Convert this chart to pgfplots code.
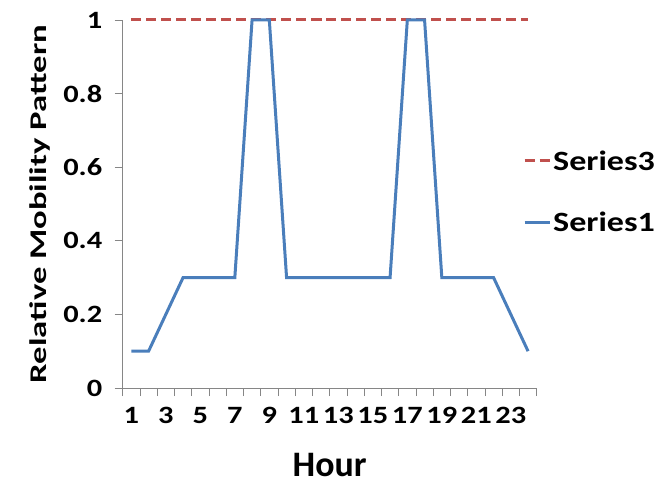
\documentclass[border=0pt]{standalone}
\usepackage{fontspec}
\setmainfont{Carlito}[FakeStretch=1.22]
\newfontfamily\hourfont{Carlito}
\newfontfamily\ylabfont{Carlito}[FakeStretch=1.45]
\usepackage{pgfplots}
\pgfplotsset{compat=1.18}
\definecolor{sone}{RGB}{74,126,187}
\definecolor{sthree}{RGB}{192,80,77}
\definecolor{axgray}{RGB}{134,134,134}
\begin{document}
\begin{tikzpicture}
\path[use as bounding box] (-122.7bp,-94bp) rectangle (541.3bp,388bp);
\begin{axis}[
    at={(0,0)}, anchor=south west,
    width=414bp, height=368bp, scale only axis,
    xmin=0.5, xmax=24.5, ymin=0, ymax=1,
    axis x line=bottom, axis y line=left,
    axis line style={-, axgray, line width=0.8bp},
    tick style={axgray, line width=0.8bp},
    tick align=outside,
    major tick length=8bp,
    xtick={0.5,1.5,...,24.5}, xticklabels={},
    extra x ticks={1,3,...,23},
    extra x tick style={major tick length=0bp},
    ytick={0,0.2,0.4,0.6,0.8,1},
    /pgf/number format/assume math mode=true,
    ticklabel style={font=\fontsize{25}{30}\selectfont\bfseries},
    yticklabel style={xshift=-9bp},
    xticklabel style={yshift=-16bp},
    clip=false,
    every axis x label/.style={at={(rel axis cs:0.5,0)}, anchor=center, yshift=-77bp, inner sep=1bp},
    every axis y label/.style={at={(rel axis cs:0,0.5)}, xshift=-82.7bp, rotate=90, anchor=center},
    xlabel={\hourfont\fontsize{36}{40}\selectfont\bfseries Hour},
    ylabel={\ylabfont\fontsize{24}{28}\selectfont\bfseries Relative Mobility Pattern},
    legend style={at={(rel axis cs:0.967,0.534)}, anchor=west, draw=none, fill=none,
        inner sep=0pt, row sep=36bp, font=\fontsize{28}{32}\selectfont\bfseries,
        cells={anchor=west}},
    legend image code/.code={\draw[#1] (0bp,0bp) -- (25bp,0bp);},
]
\addplot[sthree, line width=3bp, dash pattern=on 10bp off 5bp] coordinates {
(1,1) (2,1) (3,1) (4,1) (5,1) (6,1) (7,1) (8,1) (9,1) (10,1) (11,1) (12,1)
(13,1) (14,1) (15,1) (16,1) (17,1) (18,1) (19,1) (20,1) (21,1) (22,1) (23,1) (24,1)};
\addlegendentry{Series3}
\addplot[sone, line width=3bp] coordinates {
(1,0.1) (2,0.1) (3,0.2) (4,0.3) (5,0.3) (6,0.3) (7,0.3) (8,1) (9,1) (10,0.3)
(11,0.3) (12,0.3) (13,0.3) (14,0.3) (15,0.3) (16,0.3) (17,1) (18,1) (19,0.3)
(20,0.3) (21,0.3) (22,0.3) (23,0.2) (24,0.1)};
\addlegendentry{Series1}
\end{axis}
\end{tikzpicture}
\end{document}
